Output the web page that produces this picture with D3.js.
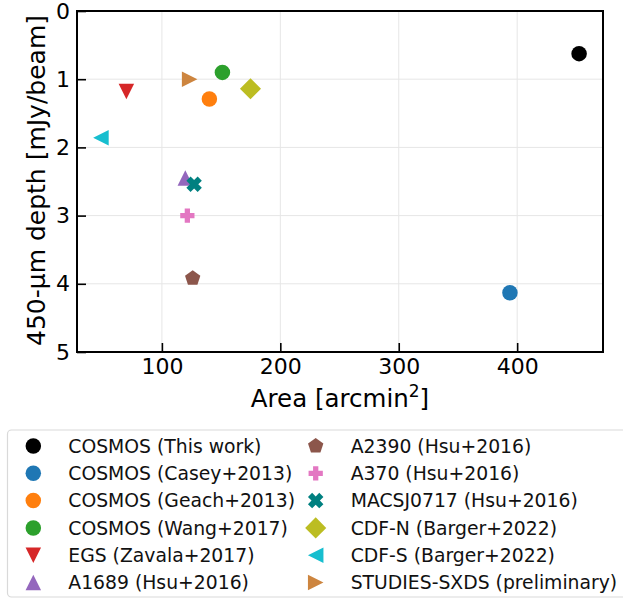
<!DOCTYPE html>
<html>
<head>
<meta charset="utf-8">
<script src="https://cdn.jsdelivr.net/npm/d3@7"></script>
<style>
  body { margin: 0; background: #fff; }
  svg { display: block; font-family: "DejaVu Sans", sans-serif; }
</style>
</head>
<body>
<svg id="chart" width="623" height="600"></svg>
<script>
// ---- data ----
const surveys = ["COSMOS (This work)", "COSMOS (Casey+2013)", "COSMOS (Geach+2013)", "COSMOS (Wang+2017)",
  "EGS (Zavala+2017)", "A1689 (Hsu+2016)", "A2390 (Hsu+2016)", "A370 (Hsu+2016)",
  "MACSJ0717 (Hsu+2016)", "CDF-N (Barger+2022)", "CDF-S (Barger+2022)", "STUDIES-SXDS (preliminary)"];
const areas  = [452.3, 393.9, 140.1, 151.1, 70.0, 119.8, 126.0, 121.5, 127.2, 174.8, 48.5, 123.4];
const depths = [0.625, 4.13, 1.29, 0.90, 1.18, 2.45, 3.92, 3.00, 2.54, 1.14, 1.86, 1.00];
const markers = ["circle", "circle", "circle", "circle", "tri-down", "tri-up", "pentagon", "plus", "x", "diamond", "tri-left", "tri-right"];
const colors = ["#000000", "#1f77b4", "#ff7f0e", "#2ca02c", "#d62728", "#9467bd", "#8c564b", "#e377c2",
  "#008080", "#bcbd22", "#17becf", "#cd853f"];
const xTicks = [100, 200, 300, 400];
const yTicks = [0, 1, 2, 3, 4, 5];

// ---- layout ----
const svg = d3.select("#chart");
const L = 77, R = 603, T = 11, B = 352;
const xMin = d3.min(areas), xMax = d3.max(areas), pad = 0.05 * (xMax - xMin);
const x = d3.scaleLinear().domain([xMin - pad, xMax + pad]).range([L, R]);
const y = d3.scaleLinear().domain([0, 5]).range([T, B]);

// grid
const g = svg.append("g");
g.selectAll("line.gx").data(xTicks).join("line")
  .attr("x1", d => x(d)).attr("x2", d => x(d)).attr("y1", T).attr("y2", B)
  .attr("stroke", "#e6e6e6").attr("stroke-width", 1);
g.selectAll("line.gy").data(yTicks).join("line")
  .attr("y1", d => y(d)).attr("y2", d => y(d)).attr("x1", L).attr("x2", R)
  .attr("stroke", "#e6e6e6").attr("stroke-width", 1);

// marker path
function markerPath(type, s) {
  const p = d3.path();
  if (type === "circle") {
    const r = s * 0.5;
    p.arc(0, 0, r, 0, 2 * Math.PI); p.closePath();
  } else if (type.startsWith("tri")) {
    const h = s * 0.5;
    let pts = [[0, -h], [-h, h], [h, h]]; // up
    if (type === "tri-down") pts = [[0, h], [-h, -h], [h, -h]];
    if (type === "tri-left") pts = [[-h, 0], [h, -h], [h, h]];
    if (type === "tri-right") pts = [[h, 0], [-h, -h], [-h, h]];
    p.moveTo(...pts[0]); p.lineTo(...pts[1]); p.lineTo(...pts[2]); p.closePath();
  } else if (type === "pentagon") {
    const r = s * 0.52;
    for (let i = 0; i < 5; i++) {
      const a = -Math.PI / 2 + i * 2 * Math.PI / 5;
      const px = r * Math.cos(a), py = r * Math.sin(a);
      if (i === 0) p.moveTo(px, py); else p.lineTo(px, py);
    }
    p.closePath();
  } else if (type === "diamond") {
    const r = s * 0.68;
    p.moveTo(0, -r); p.lineTo(r, 0); p.lineTo(0, r); p.lineTo(-r, 0); p.closePath();
  } else if (type === "plus" || type === "x") {
    const a = s * 0.46, w = s * 0.17;
    const pts = [[-w, -a], [w, -a], [w, -w], [a, -w], [a, w], [w, w], [w, a], [-w, a], [-w, w], [-a, w], [-a, -w], [-w, -w]];
    const rot = type === "x" ? Math.PI / 4 : 0;
    const k = type === "x" ? 1.12 : 1;
    pts.forEach((q, i) => {
      const px = k * (q[0] * Math.cos(rot) - q[1] * Math.sin(rot));
      const py = k * (q[0] * Math.sin(rot) + q[1] * Math.cos(rot));
      if (i === 0) p.moveTo(px, py); else p.lineTo(px, py);
    });
    p.closePath();
  }
  return p.toString();
}
const SZ = 15.5;

// points
svg.append("g").selectAll("path").data(surveys.map((s, i) => i)).join("path")
  .attr("d", i => markerPath(markers[i], SZ))
  .attr("transform", i => `translate(${x(areas[i])},${y(depths[i])})`)
  .attr("fill", i => colors[i]);

// frame
svg.append("rect").attr("x", L).attr("y", T).attr("width", R - L).attr("height", B - T)
  .attr("fill", "none").attr("stroke", "#000").attr("stroke-width", 2);

// axes with inward ticks
const xAxis = svg.append("g").attr("transform", `translate(0,${B})`)
  .call(d3.axisBottom(x).tickValues(xTicks).tickFormat(d3.format("d")).tickSizeInner(-9).tickSizeOuter(0).tickPadding(6));
const yAxis = svg.append("g").attr("transform", `translate(${L},0)`)
  .call(d3.axisLeft(y).tickValues(yTicks).tickFormat(d3.format("d")).tickSizeInner(-9).tickSizeOuter(0).tickPadding(7));
[xAxis, yAxis].forEach(a => {
  a.select(".domain").remove();
  a.selectAll(".tick line").attr("stroke", "#000").attr("stroke-width", 1.6);
  a.selectAll(".tick text").attr("font-size", 22).attr("fill", "#000")
    .attr("font-family", "DejaVu Sans, sans-serif");
});

// axis labels
const xl = svg.append("text").attr("x", (L + R) / 2).attr("y", 407).attr("text-anchor", "middle")
  .attr("font-size", 24.5).attr("fill", "#000");
xl.append("tspan").text("Area [arcmin");
xl.append("tspan").text("2").attr("font-size", 17).attr("dy", -10);
xl.append("tspan").text("]").attr("dy", 10);

svg.append("text").attr("transform", `translate(45,${(T + B) / 2 - 1}) rotate(-90)`)
  .attr("text-anchor", "middle").attr("font-size", 25).attr("fill", "#000")
  .text("450-µm depth [mJy/beam]");

// legend
svg.append("rect").attr("x", 7.5).attr("y", 430).attr("width", 640).attr("height", 167)
  .attr("rx", 4).attr("fill", "#fff").attr("stroke", "#d9d9d9").attr("stroke-width", 1.2);
const rowH = 27.3, row0 = 446;
const lg = svg.append("g").selectAll("g").data(surveys.map((s, i) => i)).join("g")
  .attr("transform", i => {
    const col = i < 6 ? 0 : 1, row = i % 6;
    return `translate(${col === 0 ? 33.3 : 315.7},${row0 + row * rowH})`;
  });
lg.append("path").attr("d", i => markerPath(markers[i], SZ)).attr("fill", i => colors[i]);
lg.append("text").attr("x", 35).attr("dy", "0.36em").attr("font-size", 18.8).attr("fill", "#111")
  .text(i => surveys[i]);
</script>
</body>
</html>
